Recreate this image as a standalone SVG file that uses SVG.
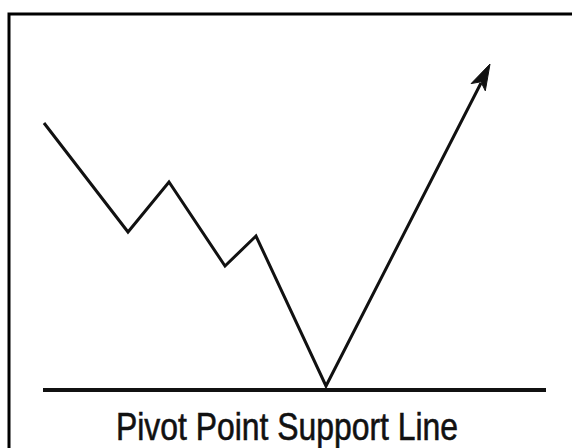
<svg xmlns="http://www.w3.org/2000/svg" width="572" height="448" viewBox="0 0 572 448">
<style>
.ln{fill:none;stroke:#111;stroke-width:3;stroke-linejoin:miter;stroke-linecap:butt}
.ah{fill:#111;stroke:#111;stroke-width:1;stroke-linejoin:miter}
.lbl{font-family:"Liberation Sans",Arial,sans-serif;font-size:38px;fill:#111;stroke:#111;stroke-width:0.6}
</style>
<rect width="572" height="448" fill="#fff"/>
<path d="M9,448 V14 H572" fill="none" stroke="#000" stroke-width="3"/>
<g id="connectors">
<polyline class="ln" points="44,123 128,232 169,182 225,266 256,236 326,386 481,83"/>
<path class="ah" d="M490,64 L485.3,90.8 L480.9,81.8 L471.1,83.6 Z"/>
</g>
<g id="support">
<line x1="43" y1="390" x2="546" y2="390" stroke="#111" stroke-width="4"/>
</g>
<g id="label">
<text class="lbl" x="116" y="440" textLength="342" lengthAdjust="spacingAndGlyphs">Pivot Point Support Line</text>
</g>
</svg>
